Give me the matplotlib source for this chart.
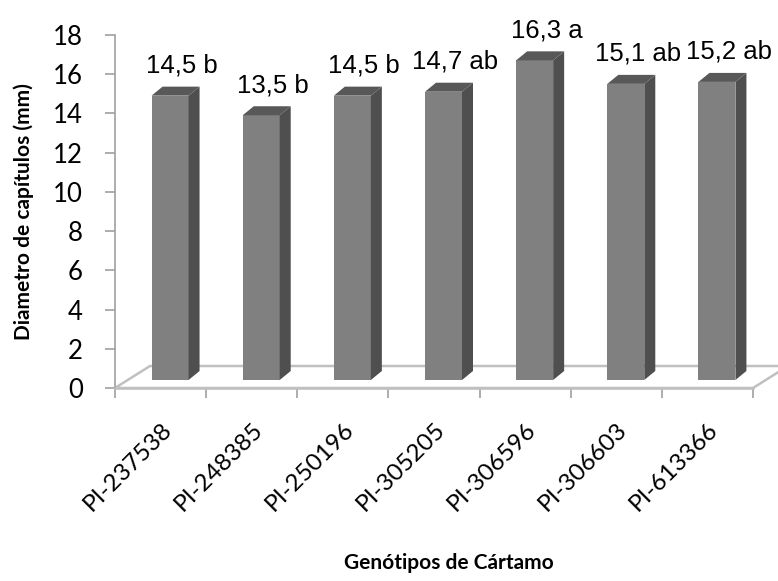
import matplotlib
matplotlib.use('Agg')
import matplotlib.pyplot as plt
from matplotlib.patches import Polygon
import numpy as np

plt.rcParams['font.family'] = ['Lato', 'DejaVu Sans']

genotypes = ['PI-237538', 'PI-248385', 'PI-250196', 'PI-305205',
             'PI-306596', 'PI-306603', 'PI-613366']
diameters = [14.5, 13.5, 14.5, 14.7, 16.3, 15.1, 15.2]
letters = ['b', 'b', 'b', 'ab', 'a', 'ab', 'ab']
yticks = list(range(0, 19, 2))

W, H = 778, 581
L, R, T, B = 115, 753, 35, 388
XPX = (R - L) / 7.0
YPX = (B - T) / 18.0

fig = plt.figure(figsize=(W / 100, H / 100), dpi=100)
ax = fig.add_axes([L / W, (H - B) / H, (R - L) / W, (B - T) / H])
ax.set_xlim(-0.5, 6.5)
ax.set_ylim(0, 18)

# 3D geometry (pixel-derived styling constants)
fdx, fdy = 35 / XPX, 22 / YPX
b0 = 8 / YPX
off = 9.5 / XPX
bw = 37 / XPX
ddx, ddy = 11 / XPX, 9 / YPX

floor = Polygon([(-0.5, 0), (6.5, 0), (6.5 + fdx, fdy), (-0.5 + fdx, fdy)],
                closed=True, fill=False, ec='#c0c0c0', lw=1.8,
                clip_on=False, zorder=1)
ax.add_patch(floor)

xs = np.arange(len(genotypes)) + off
ax.bar(xs, diameters, bottom=b0, width=bw, color='#808080',
       edgecolor='none', zorder=3)
for x, v, let in zip(xs, diameters, letters):
    xl, xr = x - bw / 2, x + bw / 2
    side = Polygon([(xr, b0), (xr + ddx, b0 + ddy), (xr + ddx, b0 + v + ddy),
                    (xr, b0 + v)], closed=True, fc='#4f4f4f', ec='none',
                   zorder=3, clip_on=False)
    top = Polygon([(xl, b0 + v), (xr, b0 + v), (xr + ddx, b0 + v + ddy),
                   (xl + ddx, b0 + v + ddy)], closed=True, fc='#585858',
                  ec='none', zorder=3, clip_on=False)
    ax.add_patch(side)
    ax.add_patch(top)
    lab = f"{v:.1f}".replace('.', ',') + ' ' + let
    ax.text(x + 12 / XPX, v + b0 + ddy + 0.72, lab, ha='center',
            va='baseline', fontsize=18.5,
            family=['Liberation Sans', 'DejaVu Sans'],
            color='black', zorder=5)

for s in ['top', 'right']:
    ax.spines[s].set_visible(False)
ax.spines['left'].set_color('#a0a0a0')
ax.spines['left'].set_linewidth(1.2)
ax.spines['bottom'].set_color('#c0c0c0')
ax.spines['bottom'].set_linewidth(1.8)

ax.set_yticks(yticks)
ax.set_yticklabels([str(t) for t in yticks])
ax.tick_params(axis='y', direction='out', length=7, width=1.2,
               color='#a0a0a0', pad=16, labelsize=18.5)

ax.set_xticks(np.arange(len(genotypes)))
ax.set_xticklabels(genotypes, rotation=45, ha='right', rotation_mode='anchor')
ax.set_xticks(np.arange(-0.5, 7, 1), minor=True)
ax.tick_params(axis='x', which='major', length=0, pad=22, labelsize=17.5)
ax.tick_params(axis='x', which='minor', direction='out', length=7,
               width=1.2, color='#a0a0a0')

ax.set_ylabel('Diametro de capítulos (mm)', fontsize=15, fontweight='bold')
ax.yaxis.set_label_coords((24 - L) / (R - L), 0.5)
ax.set_xlabel('Genótipos de Cártamo', fontsize=15, fontweight='bold')
ax.xaxis.set_label_coords((449 - L) / (R - L), (B - 563) / (B - T))
ax.xaxis.label.set_va('center')
ax.yaxis.label.set_va('center')

fig.savefig('out.png', dpi=100)
